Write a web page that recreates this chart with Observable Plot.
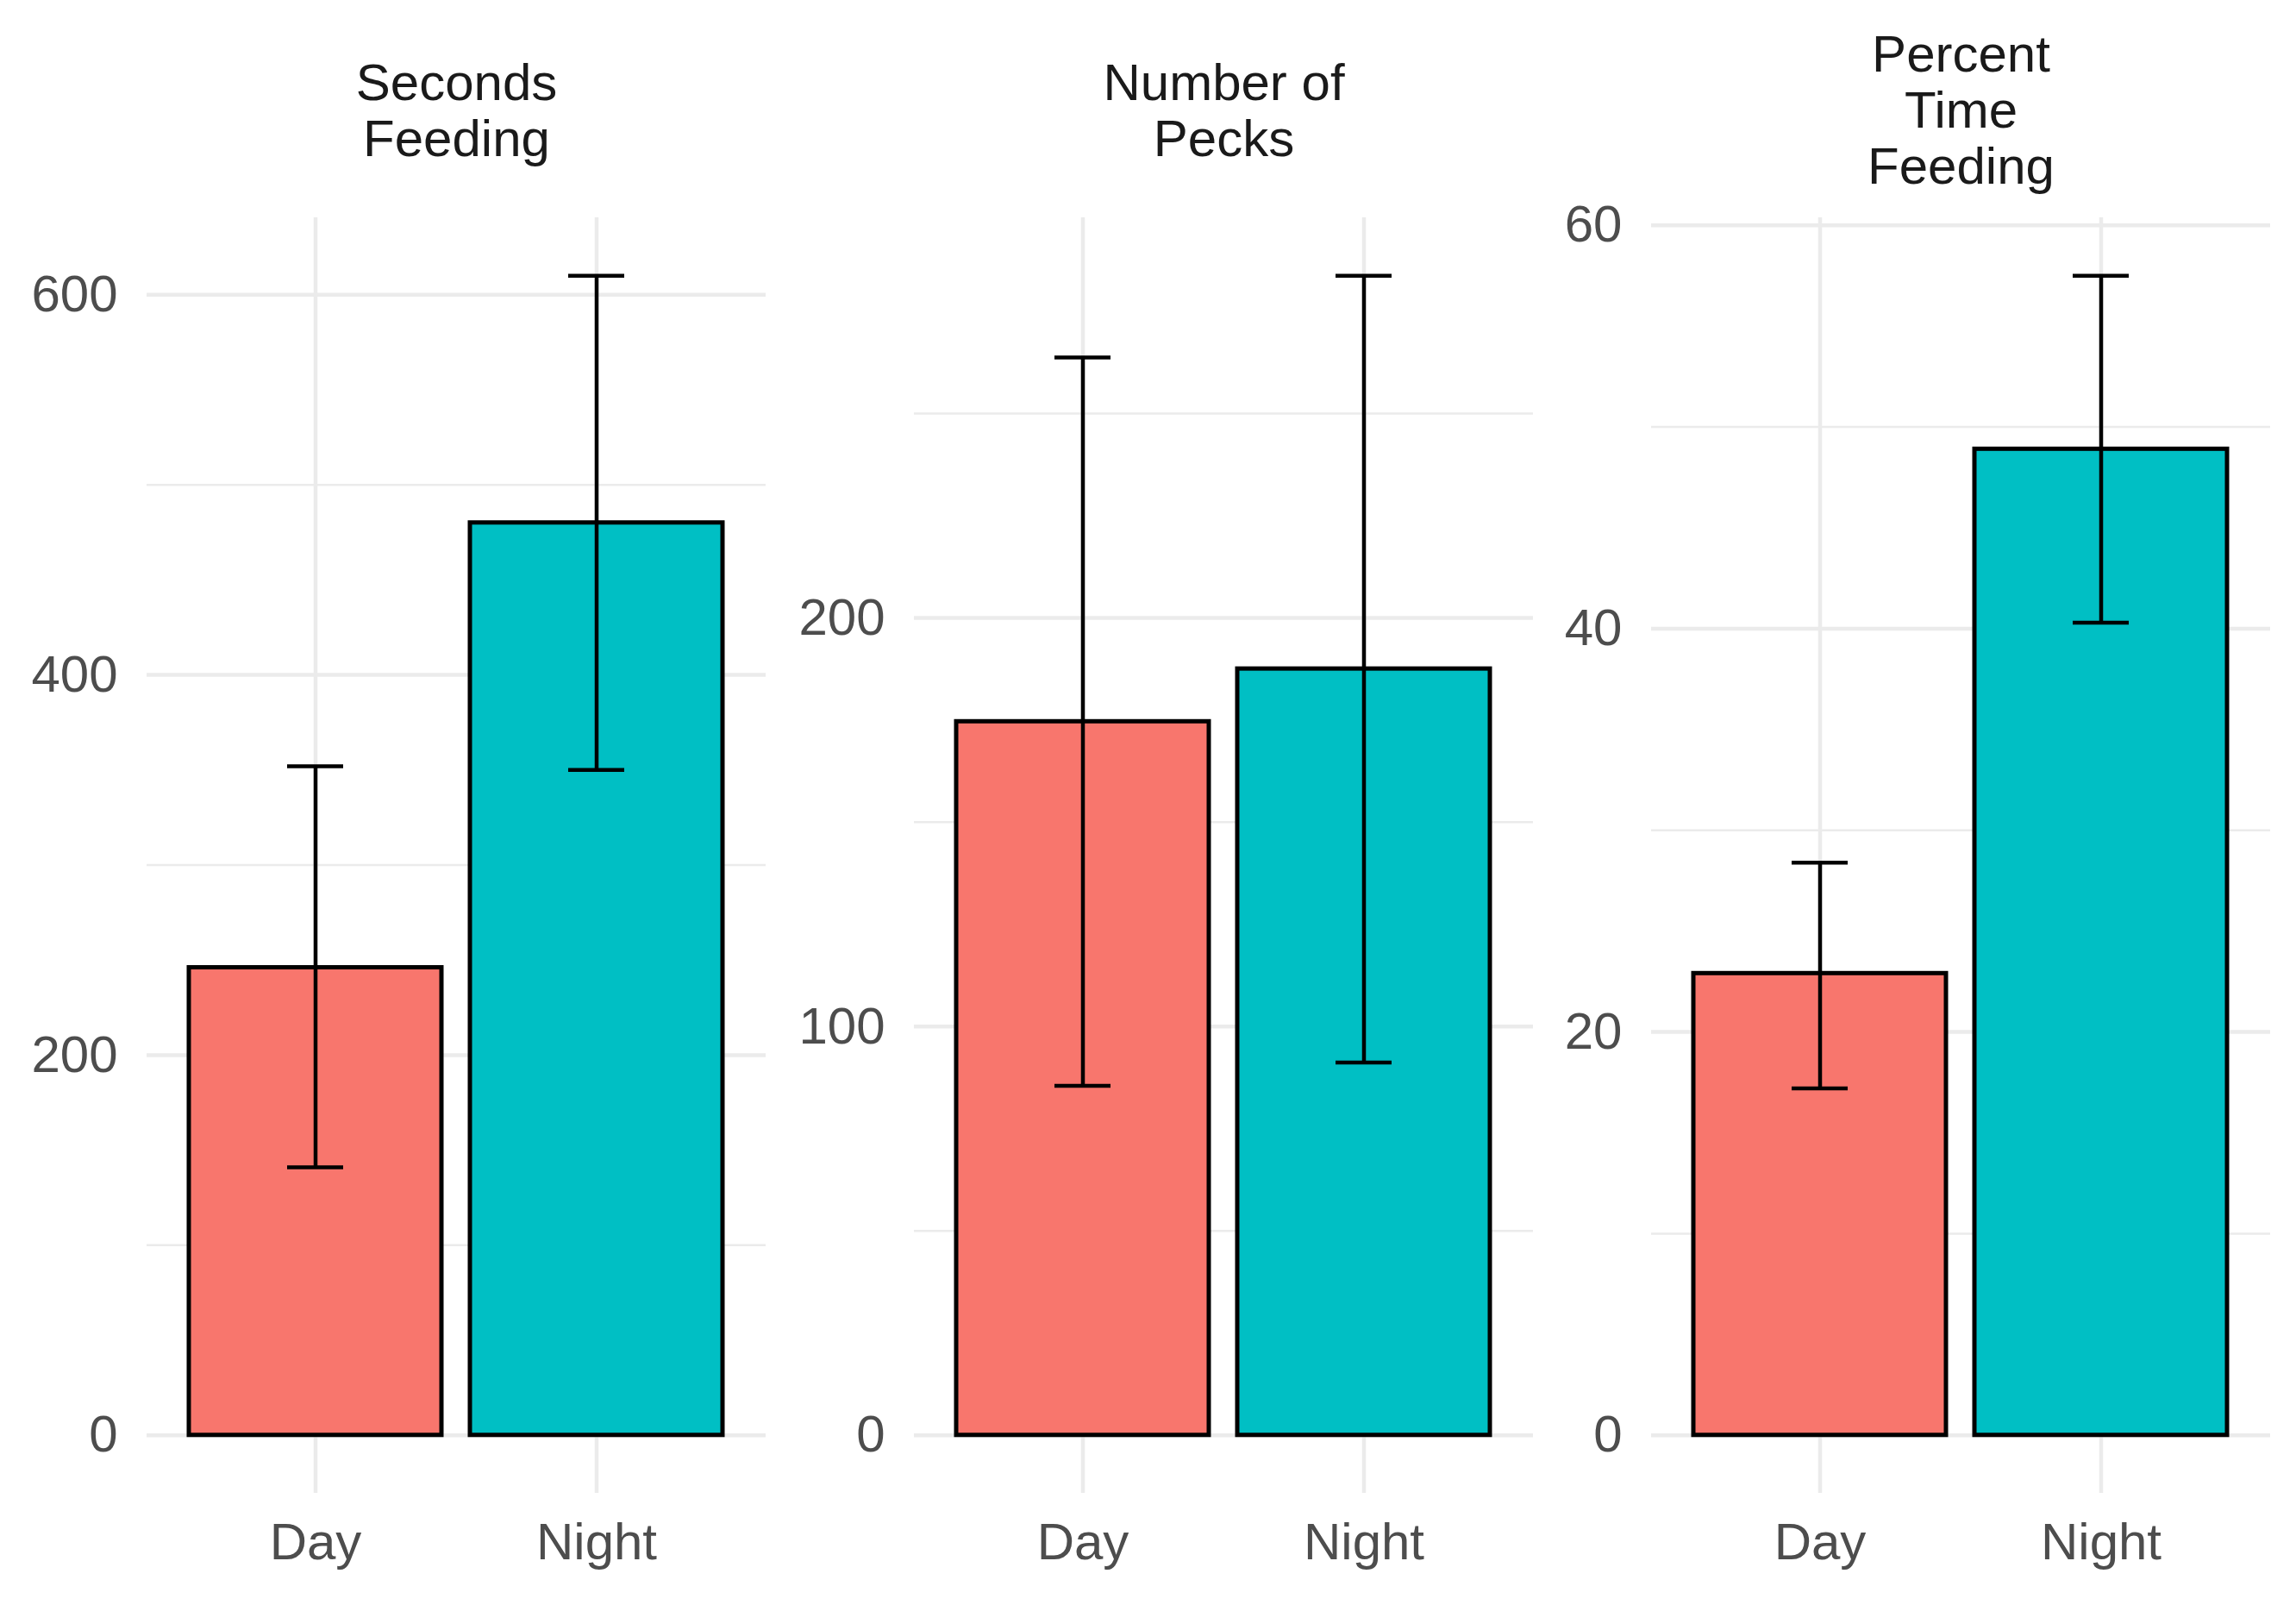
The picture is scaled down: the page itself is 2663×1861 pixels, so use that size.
<!DOCTYPE html>
<html><head><meta charset="utf-8">
<script src="https://cdn.jsdelivr.net/npm/d3@7"></script>
<script src="https://cdn.jsdelivr.net/npm/@observablehq/plot@0.6"></script>
<style>
body{margin:0;background:#fff;}
#chart{position:relative;width:2663px;height:1861px;font-family:"Liberation Sans",Arial,sans-serif;}
.facet{position:absolute;top:0;}
</style></head><body><div id="chart"></div>
<script>
const categories = ["Day", "Night"];
const facetTitles = ["Seconds\nFeeding", "Number of\nPecks", "Percent\nTime\nFeeding"];
const secondsMean = [246, 480], secondsLow = [141, 350], secondsHigh = [352, 610];
const pecksMean = [174.6, 187.5], pecksLow = [85.5, 91.2], pecksHigh = [263.7, 283.7];
const percentMean = [22.9, 48.9], percentLow = [17.2, 40.3], percentHigh = [28.4, 57.5];
const secondsTicks = [0, 200, 400, 600], secondsMinor = [100, 300, 500];
const pecksTicks = [0, 100, 200], pecksMinor = [50, 150, 250];
const percentTicks = [0, 20, 40, 60], percentMinor = [10, 30, 50];
const fillColors = ["#F8766D", "#00BFC4"];

const facets = [
  {title: facetTitles[0], mean: secondsMean, low: secondsLow, high: secondsHigh, ticks: secondsTicks, minor: secondsMinor, left: 0},
  {title: facetTitles[1], mean: pecksMean, low: pecksLow, high: pecksHigh, ticks: pecksTicks, minor: pecksMinor, left: 890},
  {title: facetTitles[2], mean: percentMean, low: percentLow, high: percentHigh, ticks: percentTicks, minor: percentMinor, left: 1745}
];

const chart = document.getElementById("chart");
const font = '"Liberation Sans", Arial, Helvetica, sans-serif';

for (const f of facets) {
  const rows = categories.map((c, i) => ({cat: c, mean: f.mean[i], low: f.low[i], high: f.high[i]}));
  const maxV = d3.max(f.high);
  const svg = Plot.plot({
    width: 890, height: 1861,
    marginLeft: 170, marginRight: 2, marginTop: 252, marginBottom: 130,
    style: {fontFamily: font, fontSize: "60px", color: "#4d4d4d", background: "transparent"},
    x: {type: "band", domain: categories, paddingInner: 0.1, paddingOuter: 0.15, label: null, tickSize: 0, tickPadding: 34},
    y: {domain: [-0.05 * maxV, 1.05 * maxV], label: null, ticks: f.ticks, tickSize: 0, tickPadding: 34},
    color: {domain: categories, range: fillColors},
    marks: [
      Plot.ruleY(f.minor, {stroke: "#ebebeb", strokeWidth: 2.5}),
      Plot.ruleY(f.ticks, {stroke: "#ebebeb", strokeWidth: 4.5}),
      Plot.ruleX(categories, {stroke: "#ebebeb", strokeWidth: 4.5}),
      Plot.barY(rows, {x: "cat", y: "mean", fill: "cat", stroke: "black", strokeWidth: 5}),
      Plot.ruleX(rows, {x: "cat", y1: "low", y2: "high", stroke: "black", strokeWidth: 4.5}),
      Plot.tickY(rows, {x: "cat", y: "high", stroke: "black", strokeWidth: 4.5, insetLeft: 114, insetRight: 114}),
      Plot.tickY(rows, {x: "cat", y: "low", stroke: "black", strokeWidth: 4.5, insetLeft: 114, insetRight: 114}),
      Plot.text([f.title], {frameAnchor: "top", text: d => d, lineAnchor: "middle", dy: -125, fontSize: 60, fill: "#1a1a1a", lineHeight: 1.08})
    ]
  });
  svg.classList.add("facet");
  svg.style.left = f.left + "px";
  chart.appendChild(svg);
}
</script></body></html>
